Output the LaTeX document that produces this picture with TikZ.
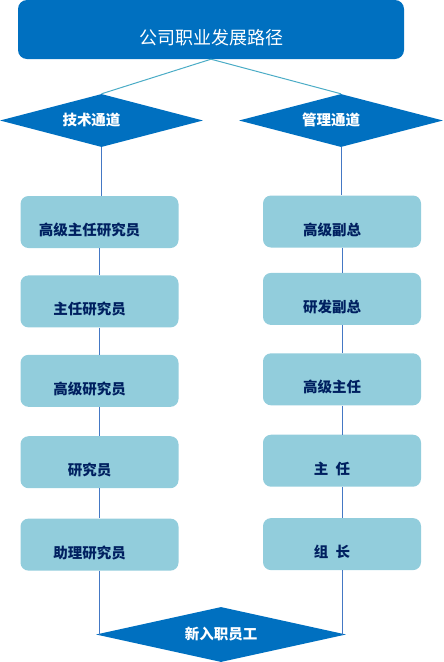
\documentclass[tikz,border=0pt]{standalone}
\usepackage{fontspec}
\setmainfont{Noto Sans CJK SC}
\usetikzlibrary{positioning,shapes.geometric}
\definecolor{pathblue}{RGB}{0,112,192}
\definecolor{stepfill}{RGB}{146,205,220}
\definecolor{steptext}{RGB}{0,32,96}
\definecolor{linkteal}{RGB}{75,172,198}
\definecolor{linkblue}{RGB}{68,120,196}

\begin{document}
\begin{tikzpicture}[x=1pt, y=-1pt,
  nudge/.style={execute at end node={\hspace*{20pt}}},
  title/.style={fill=pathblue, rounded corners=9pt, minimum width=386pt, minimum height=59pt,
                text=white, font=\fontsize{18}{20}\selectfont, text height=29pt, text depth=0pt},
  track/.style={diamond, aspect=3.8, inner sep=0pt, fill=pathblue, minimum width=203pt,
                minimum height=53pt, text=white, font=\fontsize{14.5}{16}\selectfont\bfseries},
  stepbox/.style={nudge, fill=stepfill, rounded corners=8pt, minimum width=158pt, minimum height=52pt,
                  text=steptext, font=\fontsize{14.5}{16}\selectfont\bfseries,
                  text height=27pt, text depth=0pt},
  toplink/.style={draw=linkteal, line width=1pt},
  link/.style={draw=linkblue, line width=1pt}]
\useasboundingbox (0,0) rectangle (444,662);
\node[title] (title) at (211,29.5) {公司职业发展路径};
\node[track, nudge] (tech) at (101.5,120.5) {技术通道};
\node[track, nudge, minimum width=204pt] (mgmt) at (341,120.5) {管理通道};
% technical ladder
\node[stepbox] (t1) at (99.5,222) {高级主任研究员};
\node[stepbox, below=27pt of t1] (t2) {主任研究员};
\node[stepbox, below=27pt of t2] (t3) {高级研究员};
\node[stepbox, below=29pt of t3] (t4) {研究员};
\node[stepbox, below=30pt of t4] (t5) {助理研究员};
% management ladder
\node[stepbox] (m1) at (342,221.5) {高级副总};
\node[stepbox, below=25pt of m1] (m2) {研发副总};
\node[stepbox, below=28pt of m2] (m3) {高级主任};
\node[stepbox, below=29pt of m3] (m4) {主\hspace{0.5em}任};
\node[stepbox, below=31pt of m4] (m5) {组\hspace{0.5em}长};
\node[track, minimum width=250pt, minimum height=55pt] (newhire) at (221,634.5) {新入职员工};
\draw[toplink] (title.south) -- (tech.north);
\draw[toplink] (title.south) -- (mgmt.north);
\draw[link] (tech.south) -- (tech.south |- t1.north);
\draw[link] (mgmt.south) -- (mgmt.south |- m1.north);
\foreach \a/\b in {t1/t2,t2/t3,t3/t4,t4/t5,m1/m2,m2/m3,m3/m4,m4/m5}
  \draw[link] (\a.south) -- (\b.north);
\draw[link] (t5.south) -- (t5.south |- newhire.west);
\draw[link] (m5.south) -- (m5.south |- newhire.east);
\end{tikzpicture}
\end{document}
